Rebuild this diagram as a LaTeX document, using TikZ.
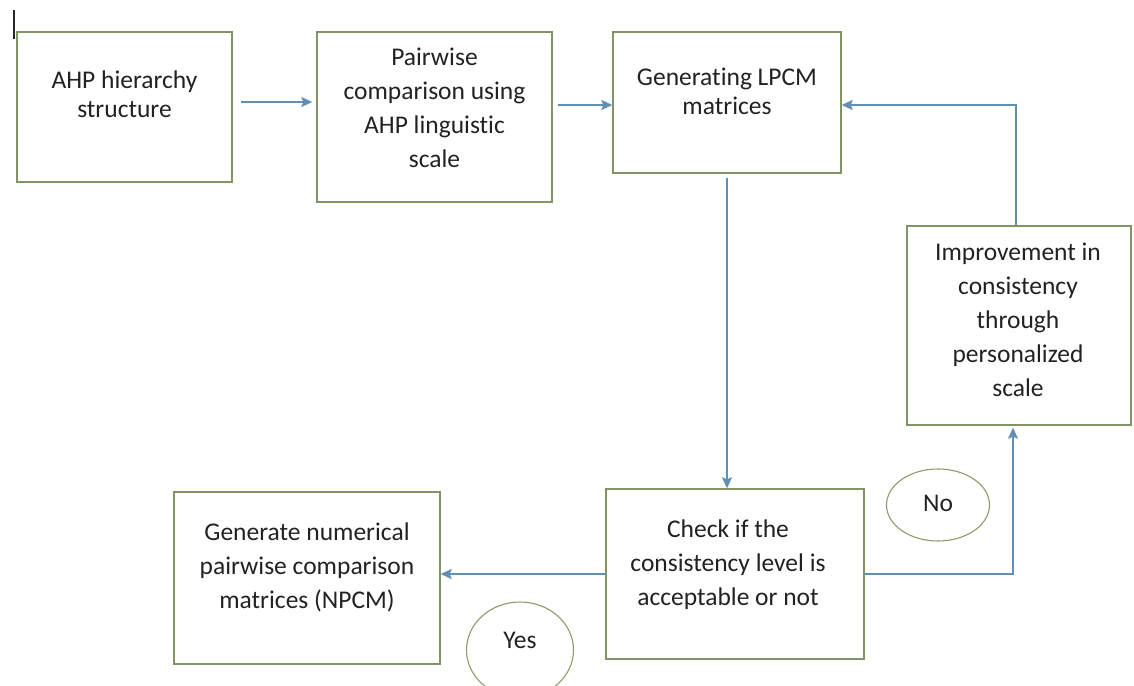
\documentclass[tikz,border=0pt]{standalone}
\usepackage{fontspec}
\setmainfont{Carlito}[Ligatures=NoCommon]
\usetikzlibrary{arrows.meta,shapes.geometric}
\definecolor{boxc}{RGB}{128,148,100}
\definecolor{arrc}{RGB}{96,142,180}
\definecolor{ovalc}{RGB}{150,152,105}
\definecolor{txtc}{RGB}{34,34,34}
\tikzset{
  box/.style={draw=boxc, line width=1.4pt, fill=white, inner sep=0pt},
  txt/.style={align=center, inner sep=0pt, text=txtc, anchor=north},
  f34/.style={font=\fontsize{25.5}{34}\selectfont},
  f30/.style={font=\fontsize{25.5}{29.5}\selectfont},
  oval/.style={ellipse, draw=ovalc, line width=1.1pt, inner sep=0pt},
  lbl/.style={inner sep=0pt, text=txtc, font=\fontsize{25.5}{30}\selectfont, anchor=base},
  arr/.style={draw=arrc, line width=1.5pt, -{Stealth[length=11pt,width=10pt,inset=2pt]}}
}
\newcommand{\fl}{\rule{0pt}{22pt}}
\begin{document}
\begin{tikzpicture}[x=1pt,y=-1pt]
\useasboundingbox (0,0) rectangle (1134,685);
\fill[white] (0,0) rectangle (1134,685);
% stray cursor mark
\draw[line width=1.8pt, black!85] (14,10) -- (14,39);
% boxes
\node[box, minimum width=215pt, minimum height=150pt] (b1) at (124.5,107) {};
\node[box, minimum width=235pt, minimum height=170pt] (b2) at (434.5,117) {};
\node[box, minimum width=228pt, minimum height=141pt] (b3) at (727,102.5) {};
\node[box, minimum width=224pt, minimum height=199pt] (b4) at (1019,325.5) {};
\node[box, minimum width=258pt, minimum height=170pt] (b5) at (735,574) {};
\node[box, minimum width=266pt, minimum height=172pt] (b6) at (307,578) {};
% texts
\node[txt, f30] (t1) at (124.5,66) {\fl AHP hierarchy\\structure};
\node[txt, f34] (t2) at (434.5,43) {\fl Pairwise\\comparison using\\AHP linguistic\\scale};
\node[txt, f30] (t3) at (727,63) {\fl Generating LPCM\\matrices};
\node[txt, f34] (t4) at (1018,238) {\fl Improvement in\\consistency\\through\\personalized\\scale};
\node[txt, f34] (t5) at (728,515) {\fl Check if the\\consistency level is\\acceptable or not};
\node[txt, f34] (t6) at (307,518) {\fl Generate numerical\\pairwise comparison\\matrices (NPCM)};
% ovals
\node[oval, minimum width=103pt, minimum height=72pt] (no) at (938,505) {};
\node[lbl] (not) at (938,511) {No};
\node[oval, minimum width=107pt, minimum height=96pt] (yes) at (520,650) {};
\node[lbl] (yest) at (520,648) {Yes};
% connectors
\draw[arr] ([xshift=8pt,yshift=5pt]b1.east) -- ([xshift=-4pt]b2.west |- 0,102);
\draw[arr] ([xshift=5pt,yshift=12pt]b2.east) -- (b3.west |- 0,105);
\draw[arr] ([yshift=-4pt]b3.south) -- (b3.south |- b5.north);
\draw[arr] (b5.west) -- (b6.east |- b5.west);
\draw[arr] (b5.east) -| ([xshift=-6pt,yshift=-2pt]b4.south);
\draw[arr] ([xshift=-3pt]b4.north) |- ([yshift=-2.5pt]b3.east);
\end{tikzpicture}
\end{document}
